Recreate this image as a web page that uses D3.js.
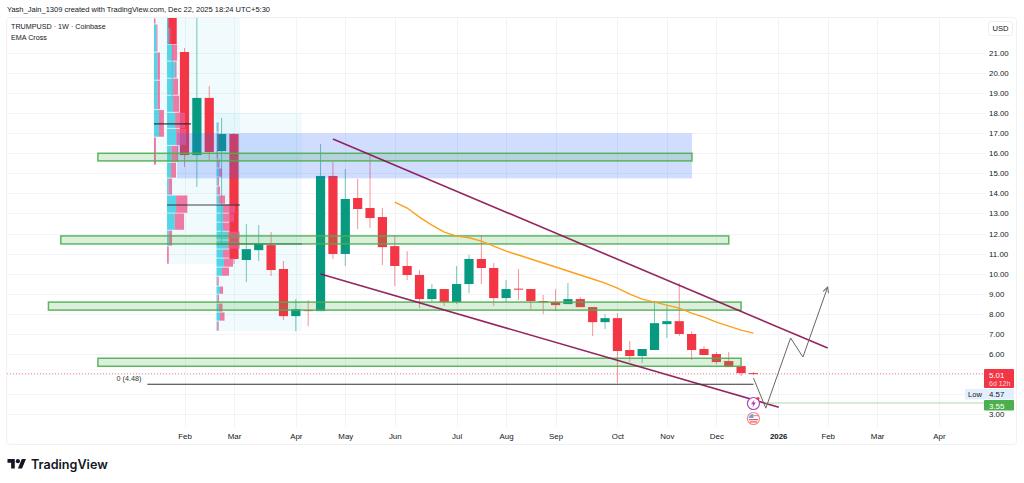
<!DOCTYPE html>
<html>
<head>
<meta charset="utf-8">
<title>TRUMPUSD</title>
<script src="https://cdn.jsdelivr.net/npm/d3@7"></script>
<style>
    html, body { margin: 0; padding: 0; background: #fff; overflow: hidden; }
    text { font-family: "Liberation Sans", Arial, sans-serif; }
</style>
</head>
<body>
<div id="container"></div>
<script>
// weekly candles, bar 0 is the week of Feb 3 2025, first candle sits one week earlier
var firstBar = -1;
var opens = [24.00, 21.05, 15.91, 18.76, 16.11, 16.96, 10.68, 11.17, 11.42, 10.23, 7.88, 8.18, 8.13, 14.87, 10.98, 13.77, 13.27, 12.82, 11.37, 10.38, 9.93, 8.73, 9.23, 8.58, 9.48, 10.73, 10.28, 8.78, 9.25, 9.23, 8.63, 8.58, 8.48, 8.73, 8.33, 7.58, 7.78, 6.19, 5.89, 6.19, 7.48, 7.63, 6.99, 6.24, 5.99, 5.64, 5.39, 5.04];
var closes = [21.45, 15.91, 18.76, 16.06, 16.96, 10.73, 11.22, 11.47, 10.18, 7.88, 8.23, 8.13, 14.87, 10.98, 13.72, 13.22, 12.77, 11.32, 10.38, 9.93, 8.73, 9.23, 8.58, 9.48, 10.73, 10.28, 8.78, 9.23, 9.20, 8.63, 8.58, 8.43, 8.73, 8.33, 7.58, 7.78, 6.14, 5.89, 6.24, 7.53, 7.63, 6.99, 6.19, 5.94, 5.59, 5.34, 5.04, 5.01];
var highs = [30.00, 21.25, 24.00, 19.35, 17.76, 17.01, 12.47, 12.42, 12.07, 10.63, 8.73, 8.68, 16.46, 15.56, 15.21, 14.72, 15.86, 13.27, 11.92, 11.12, 10.18, 9.48, 9.23, 10.38, 10.93, 11.92, 10.53, 9.68, 10.23, 9.23, 8.93, 9.23, 9.53, 8.83, 8.33, 7.98, 8.03, 6.64, 6.24, 8.63, 8.38, 9.53, 7.13, 6.39, 6.09, 6.09, 5.39, 5.09];
var lows = [18.66, 15.31, 14.32, 15.61, 11.52, 10.48, 9.58, 10.63, 9.88, 7.68, 7.13, 7.38, 8.13, 10.73, 10.38, 12.22, 12.27, 10.43, 9.38, 9.68, 8.28, 8.58, 8.38, 8.48, 9.03, 9.48, 8.38, 8.58, 8.68, 8.23, 7.98, 8.13, 8.48, 8.33, 6.89, 7.23, 4.54, 5.59, 5.54, 6.19, 6.79, 6.89, 5.69, 5.94, 5.49, 5.34, 4.89, 4.94];

var emaFirstBar = 17;
var emaValues = [13.57, 13.27, 12.82, 12.42, 12.07, 11.87, 11.79, 11.62, 11.37, 11.12, 10.93, 10.73, 10.53, 10.33, 10.13, 9.93, 9.73, 9.53, 9.28, 8.98, 8.73, 8.58, 8.43, 8.28, 8.03, 7.83, 7.58, 7.38, 7.18, 7.03];

var priceTicks = [21, 20, 19, 18, 17, 16, 15, 14, 13, 12, 11, 10, 9, 8, 7, 6, 3];
var gridPrices = [21, 20, 19, 18, 17, 16, 15, 14, 13, 12, 11, 10, 9, 8, 7, 6, 5, 4, 3];
var monthBars = [0, 4, 9, 13, 17, 22, 26, 30, 35, 39, 43, 48, 52, 56, 61];
var monthLabels = ['Feb', 'Mar', 'Apr', 'May', 'Jun', 'Jul', 'Aug', 'Sep', 'Oct', 'Nov', 'Dec', '2026', 'Feb', 'Mar', 'Apr'];

// drawings, in [bar, price]
var blueBox = { from: [-0.6, 17.00], to: [41.03, 14.75] };
var zoneFrom = [-7, -10, -11, -7];
var zoneTo = [41.03, 44, 45, 45];
var zoneTop = [16.00, 11.88, 8.58, 5.78];
var zoneBottom = [15.62, 11.48, 8.18, 5.38];
var upperTrend = [[12, 16.71], [52, 6.29]];
var lowerTrend = [[11, 9.98], [48.05, 3.34]];
var projection = [[46, 4.79], [47, 3.29], [49, 6.79], [50, 5.84], [52, 9.33]];
var lowLevel = 4.48;
var targetLevel = 3.55;
var lastPrice = 5.01;

// volume profiles, edges are prices, one more edge than rows
var profileAEdges = [22.75, 22.45, 21.05, 19.65, 18.18, 16.81, 15.42];
var profileAUp = [0, 2.5, 3.5, 3.5, 5, 0];
var profileADown = [1.5, 1, 2.5, 2.5, 5, 2];
var profileBEdges = [22.75, 22.30, 21.45, 20.60, 19.75, 18.90, 18.05, 17.25, 16.40, 15.56, 14.77, 13.92, 13.02, 12.17, 11.38, 10.48];
var profileBUp = [1.5, 2, 5, 8, 6, 6, 8, 9, 4.5, 4, 1.7, 9, 7.7, 1.7, 0];
var profileBDown = [0.5, 1.5, 5, 1.5, 5, 6, 10, 10, 6.5, 5, 3.3, 11.3, 9.3, 3.3, 1.7];
var profileCEdges = [18.01, 17.56, 17.06, 16.61, 16.16, 15.71, 15.27, 14.82, 14.37, 13.92, 13.47, 13.02, 12.57, 12.12, 11.68, 11.23, 10.78, 10.33, 9.88, 9.38, 8.98, 8.53, 8.09, 7.64, 7.14];
var profileCUp = [0, 1.5, 1, 1, 0.5, 1, 2.5, 1, 1, 2.5, 6.5, 6.5, 6.5, 11, 11, 6.5, 7.5, 5.5, 0.7, 3.5, 1, 2, 3.5, 0.7];
var profileCDown = [0, 0.5, 1, 1, 1, 2, 3, 1.5, 2.5, 6, 12, 11, 7, 12, 12, 7, 9, 7, 1.5, 3, 1.5, 4, 4.5, 1.5];
var profileStart = [-2.47, -1.41, 2.59];
var profileEnd = [-1.33, 4.49, 9.5];
var pocBars = [[-2.47, 0.53], [-1.41, 4.49], [2.59, 9.5]];
var pocPrices = [17.47, 13.42, 11.48];

var green = '#089981';
var red = '#F23645';
var gridColor = '#f2f3f6';
var textColor = '#131722';

var x = d3.scaleLinear().domain([0, 61]).range([184.5, 939]);
var y = d3.scaleLinear().domain([3, 21]).range([414, 53]);
var vol = d3.scaleLinear().domain([0, 20]).range([0, 20]);

var candles = opens.map(function (open, index) {
    return { bar: firstBar + index, open: open, close: closes[index], high: highs[index], low: lows[index] };
});

var svg = d3.select('#container').append('svg').attr('width', 1024).attr('height', 483).style('display', 'block');
svg.append('rect').attr('width', 1024).attr('height', 483).attr('fill', '#fff');

svg.append('text').attr('x', 7).attr('y', 12).attr('font-size', 7.5).attr('fill', textColor)
    .text('Yash_Jain_1309 created with TradingView.com, Dec 22, 2025 18:24 UTC+5:30');

// pane frame
svg.append('rect').attr('x', 6.5).attr('y', 17.5).attr('width', 1010).attr('height', 427).attr('rx', 3)
    .attr('fill', '#fff').attr('stroke', '#f0f1f4');

svg.append('clipPath').attr('id', 'pane').append('rect').attr('x', 7).attr('y', 18).attr('width', 978).attr('height', 409);
var pane = svg.append('g').attr('clip-path', 'url(#pane)');

// grid
pane.selectAll('.hgrid').data(gridPrices).enter().append('line')
    .attr('x1', 7).attr('x2', 985)
    .attr('y1', function (d) { return Math.round(y(d)) + 0.5; })
    .attr('y2', function (d) { return Math.round(y(d)) + 0.5; })
    .attr('stroke', gridColor);
pane.selectAll('.vgrid').data(monthBars).enter().append('line')
    .attr('y1', 18).attr('y2', 427)
    .attr('x1', function (d) { return Math.round(x(d)) + 0.5; })
    .attr('x2', function (d) { return Math.round(x(d)) + 0.5; })
    .attr('stroke', gridColor);

// profile backgrounds
function drawProfileBack(edges, index) {
    pane.append('rect')
        .attr('x', x(profileStart[index]))
        .attr('y', y(edges[0]))
        .attr('width', x(profileEnd[index]) - x(profileStart[index]))
        .attr('height', y(edges[edges.length - 1]) - y(edges[0]))
        .attr('fill', 'rgba(77, 208, 225, 0.08)');
}
drawProfileBack(profileAEdges, 0);
drawProfileBack(profileBEdges, 1);
drawProfileBack(profileCEdges, 2);

// candles
pane.selectAll('.wick').data(candles).enter().append('line')
    .attr('x1', function (d) { return x(d.bar); })
    .attr('x2', function (d) { return x(d.bar); })
    .attr('y1', function (d) { return y(d.high); })
    .attr('y2', function (d) { return y(d.low); })
    .attr('stroke', function (d) { return d.close >= d.open ? green : red; })
    .attr('stroke-opacity', 0.55);
pane.selectAll('.body').data(candles).enter().append('rect')
    .attr('x', function (d) { return x(d.bar) - 4.6; })
    .attr('width', 9.2)
    .attr('y', function (d) { return y(Math.max(d.open, d.close)); })
    .attr('height', function (d) { return Math.max(1, Math.abs(y(d.open) - y(d.close))); })
    .attr('fill', function (d) { return d.close >= d.open ? green : red; });

// volume profile rows
function drawProfile(edges, up, down, index) {
    var base = x(profileStart[index]);
    var rows = up.map(function (value, row) {
        return { up: value, down: down[row], top: edges[row], bottom: edges[row + 1] };
    });
    var group = pane.append('g');
    group.selectAll('.up').data(rows).enter().append('rect')
        .attr('x', base)
        .attr('y', function (d) { return y(d.top) + 0.5; })
        .attr('width', function (d) { return vol(d.up); })
        .attr('height', function (d) { return y(d.bottom) - y(d.top) - 0.8; })
        .attr('fill', '#38cde3').attr('fill-opacity', 0.85);
    group.selectAll('.down').data(rows).enter().append('rect')
        .attr('x', function (d) { return base + vol(d.up); })
        .attr('y', function (d) { return y(d.top) + 0.5; })
        .attr('width', function (d) { return vol(d.down); })
        .attr('height', function (d) { return y(d.bottom) - y(d.top) - 0.8; })
        .attr('fill', '#ec5a8e').attr('fill-opacity', 0.8);
}
drawProfile(profileAEdges, profileAUp, profileADown, 0);
drawProfile(profileBEdges, profileBUp, profileBDown, 1);
drawProfile(profileCEdges, profileCUp, profileCDown, 2);

pane.selectAll('.poc').data(pocPrices).enter().append('line')
    .attr('x1', function (d, i) { return x(pocBars[i][0]); })
    .attr('x2', function (d, i) { return x(pocBars[i][1]); })
    .attr('y1', function (d) { return y(d); })
    .attr('y2', function (d) { return y(d); })
    .attr('stroke', '#222').attr('stroke-width', 1.2).attr('stroke-opacity', 0.85);

// blue box and green zones
pane.append('rect')
    .attr('x', x(blueBox.from[0]))
    .attr('y', y(blueBox.from[1]))
    .attr('width', x(blueBox.to[0]) - x(blueBox.from[0]))
    .attr('height', y(blueBox.to[1]) - y(blueBox.from[1]))
    .attr('fill', 'rgba(41, 98, 255, 0.22)');

pane.selectAll('.zone').data(zoneTop).enter().append('rect')
    .attr('x', function (d, i) { return x(zoneFrom[i]); })
    .attr('width', function (d, i) { return x(zoneTo[i]) - x(zoneFrom[i]); })
    .attr('y', function (d) { return y(d); })
    .attr('height', function (d, i) { return y(zoneBottom[i]) - y(d); })
    .attr('fill', 'rgba(76, 175, 80, 0.2)')
    .attr('stroke', '#4caf50').attr('stroke-opacity', 0.9).attr('stroke-width', 1.5);

// ema
var line = d3.line()
    .x(function (d) { return x(d[0]); })
    .y(function (d) { return y(d[1]); });
pane.append('path')
    .datum(emaValues.map(function (value, index) { return [emaFirstBar + index, value]; }))
    .attr('d', line).attr('fill', 'none').attr('stroke', '#ff9f1a').attr('stroke-width', 1.4);

// trend lines
[upperTrend, lowerTrend].forEach(function (trend) {
    pane.append('path').datum(trend).attr('d', line)
        .attr('fill', 'none').attr('stroke', '#880e4f').attr('stroke-opacity', 0.9).attr('stroke-width', 1.6);
});

// levels
pane.append('line').attr('x1', 7).attr('x2', 985).attr('y1', y(lastPrice)).attr('y2', y(lastPrice))
    .attr('stroke', red).attr('stroke-opacity', 0.55).attr('stroke-dasharray', '1 2');
pane.append('line').attr('x1', x(-3)).attr('x2', x(46)).attr('y1', y(lowLevel)).attr('y2', y(lowLevel))
    .attr('stroke', '#333').attr('stroke-width', 1.1);
pane.append('text').attr('x', x(-3) - 6).attr('y', y(lowLevel) - 3).attr('text-anchor', 'end')
    .attr('font-size', 7.2).attr('fill', '#333').text('0 (' + lowLevel.toFixed(2) + ')');
pane.append('line').attr('x1', x(47)).attr('x2', 985).attr('y1', y(targetLevel)).attr('y2', y(targetLevel))
    .attr('stroke', '#a9d8ab').attr('stroke-width', 1);

// projected path with arrow
svg.append('marker').attr('id', 'arrow').attr('viewBox', '0 0 10 10').attr('refX', 9).attr('refY', 5)
    .attr('markerWidth', 7).attr('markerHeight', 7).attr('orient', 'auto')
    .append('path').attr('d', 'M1,1 L9,5 L1,9').attr('fill', 'none').attr('stroke', '#666').attr('stroke-width', 1.4);
pane.append('path').datum(projection).attr('d', line)
    .attr('fill', 'none').attr('stroke', '#666').attr('stroke-width', 1).attr('marker-end', 'url(#arrow)');

// price scale
var yAxis = d3.axisRight(y).tickValues(priceTicks).tickSize(0).tickPadding(0)
    .tickFormat(function (d) { return d.toFixed(2); });
var yAxisGroup = svg.append('g').attr('transform', 'translate(989,0)').call(yAxis);
yAxisGroup.select('.domain').remove();
yAxisGroup.selectAll('text').attr('font-size', 7.9).attr('fill', textColor).attr('font-family', '"Liberation Sans", Arial, sans-serif');

// time scale
var xAxis = d3.axisBottom(x).tickValues(monthBars).tickSize(0).tickPadding(0)
    .tickFormat(function (d, i) { return monthLabels[i]; });
var xAxisGroup = svg.append('g').attr('transform', 'translate(0,433)').call(xAxis);
xAxisGroup.select('.domain').remove();
xAxisGroup.selectAll('text').attr('font-size', 7.9).attr('fill', textColor).attr('font-family', '"Liberation Sans", Arial, sans-serif')
    .attr('font-weight', function (d, i) { return monthLabels[i] === '2026' ? 'bold' : 'normal'; });

// title block
svg.append('text').attr('x', 11).attr('y', 29).attr('font-size', 7.2).attr('fill', textColor).text('TRUMPUSD \u00b7 1W \u00b7 Coinbase');
svg.append('text').attr('x', 11).attr('y', 40).attr('font-size', 7.2).attr('fill', textColor).text('EMA Cross');

// USD box
svg.append('rect').attr('x', 988.5).attr('y', 21.5).attr('width', 24).attr('height', 14).attr('rx', 2)
    .attr('fill', '#fff').attr('stroke', '#eceef2');
svg.append('text').attr('x', 1000.5).attr('y', 31).attr('text-anchor', 'middle').attr('font-size', 7.6).attr('fill', textColor).text('USD');

// price labels
svg.append('rect').attr('x', 984).attr('y', 369).attr('width', 30).attr('height', 19).attr('rx', 1).attr('fill', red);
svg.append('text').attr('x', 989).attr('y', 377.5).attr('font-size', 7.9).attr('fill', '#fff').text(lastPrice.toFixed(2));
svg.append('text').attr('x', 989).attr('y', 386).attr('font-size', 7).attr('fill', '#ffd5da').text('6d 12h');
svg.append('rect').attr('x', 965).attr('y', 389).attr('width', 49).attr('height', 10.5).attr('fill', '#e3effd');
svg.append('text').attr('x', 968).attr('y', 397).attr('font-size', 7.6).attr('fill', textColor).text('Low');
svg.append('text').attr('x', 989).attr('y', 397).attr('font-size', 7.9).attr('fill', textColor).text('4.57');
svg.append('rect').attr('x', 984).attr('y', 400).attr('width', 30).attr('height', 10.5).attr('rx', 1).attr('fill', '#4caf50');
svg.append('text').attr('x', 989).attr('y', 408.5).attr('font-size', 7.9).attr('fill', '#fff').text(targetLevel.toFixed(2));

// event markers under the last bar
var markX = x(46);
var bolt = svg.append('g').attr('transform', 'translate(' + markX + ',403.5)');
bolt.append('circle').attr('r', 6).attr('fill', '#fff').attr('stroke', '#ab47bc').attr('stroke-width', 1.2);
bolt.append('path').attr('d', 'M1,-4 L-2.5,0.8 L-0.3,0.8 L-1,4 L2.5,-1 L0.2,-1 Z').attr('fill', '#ab47bc');
bolt.append('circle').attr('cx', 4.5).attr('cy', -5).attr('r', 1.6).attr('fill', red);
var flag = svg.append('g').attr('transform', 'translate(' + markX + ',418.5)');
flag.append('circle').attr('r', 6).attr('fill', '#fff').attr('stroke', '#f28b8b').attr('stroke-width', 1.2);
flag.append('path').attr('d', 'M-4.5,-0.5 A4.5,4.5 0 0 1 0,-4.5 L0,-0.5 Z').attr('fill', '#5aa5ee');
flag.append('rect').attr('x', 0).attr('y', -3.5).attr('width', 4.5).attr('height', 1.2).attr('fill', '#f28b8b');
flag.append('rect').attr('x', -4.5).attr('y', 0.5).attr('width', 9).attr('height', 1.2).attr('fill', '#ef5350');
flag.append('rect').attr('x', -3.5).attr('y', 2.8).attr('width', 7).attr('height', 1.2).attr('fill', '#ef5350');

// logo
var logo = svg.append('g').attr('transform', 'translate(7.5,457) scale(0.52)').attr('fill', '#131722');
logo.append('path').attr('d', 'M14 22H7V11H0V4h14v18zM28 22h-8l7.5-18h8L28 22z');
logo.append('circle').attr('cx', 20).attr('cy', 8).attr('r', 4);
svg.append('text').attr('x', 31).attr('y', 468.5).attr('font-size', 12.6).attr('font-weight', 600)
    .style('font-family', 'Inter, sans-serif').attr('fill', '#131722').text('TradingView');
</script>
</body>
</html>
